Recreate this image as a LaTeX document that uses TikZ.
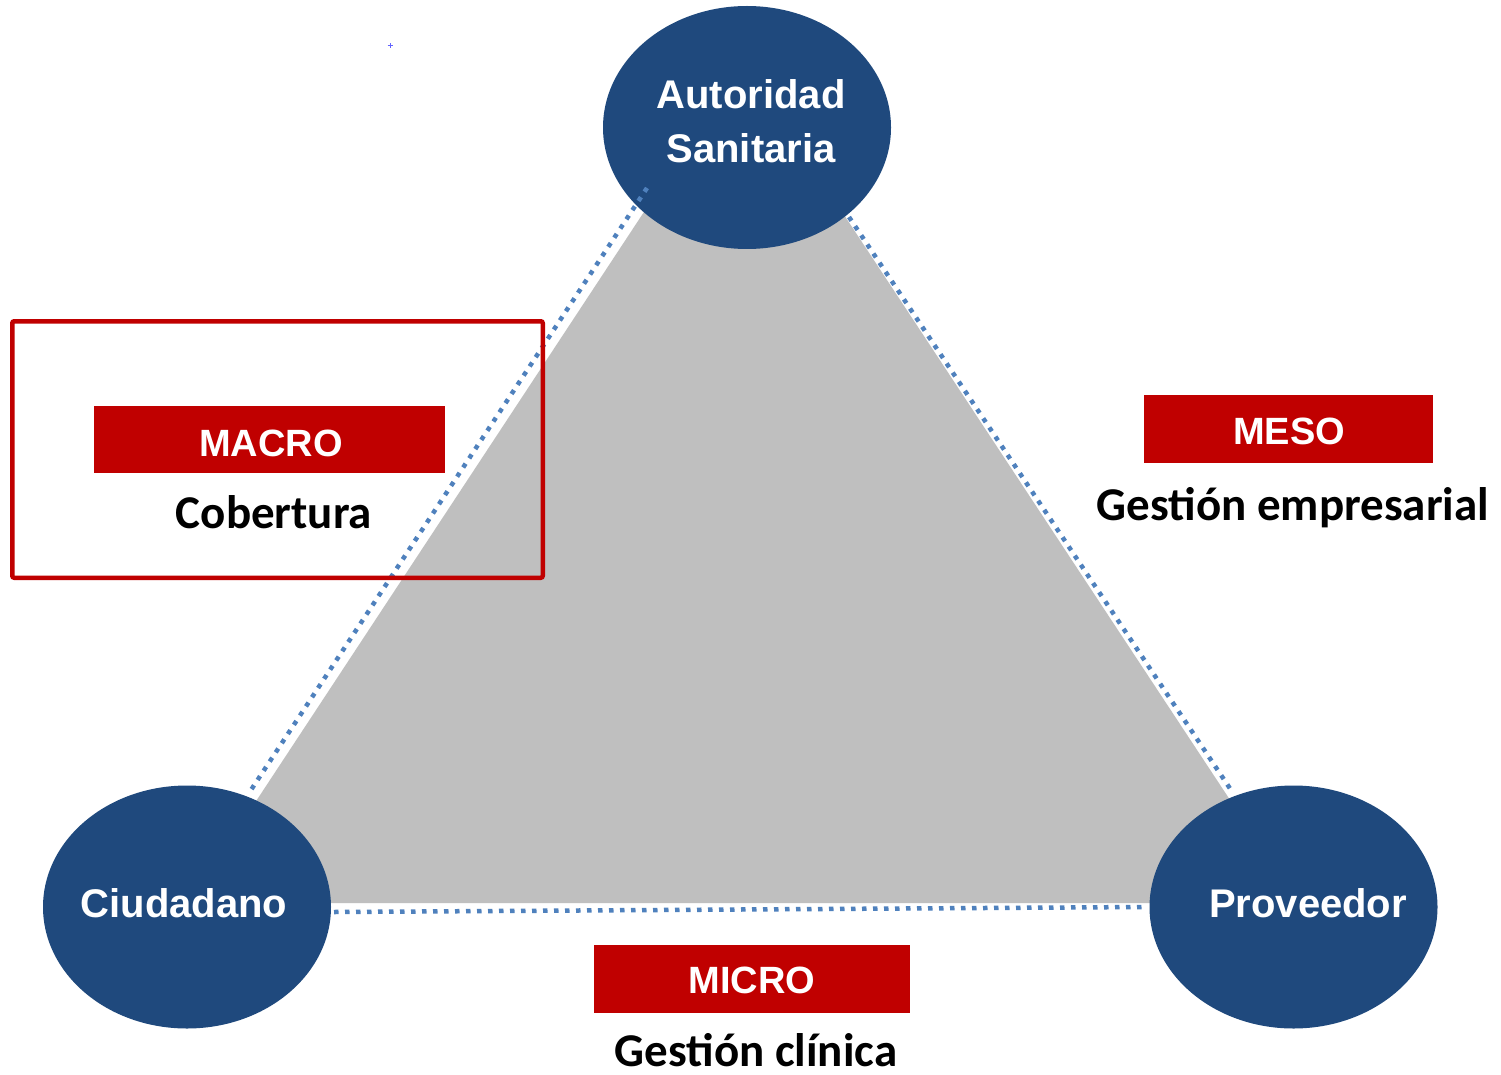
\documentclass[tikz,border=0pt]{standalone}
\usepackage{fontspec}
\usetikzlibrary{shapes.geometric}
\newfontfamily\arialf{Liberation Sans}
\newfontfamily\calibf{Carlito}
\definecolor{ellblue}{RGB}{31,73,125}
\definecolor{dotblue}{RGB}{79,129,189}
\definecolor{labred}{RGB}{192,0,0}
\definecolor{trigray}{RGB}{191,191,191}
\definecolor{crossblue}{RGB}{100,100,255}
\begin{document}
\begin{tikzpicture}[x=1pt,y=-1pt,
  ell/.style={ellipse, fill=ellblue, minimum width=288pt, minimum height=243pt, inner sep=0pt},
  elltext/.style={text=white, font=\arialf\bfseries\fontsize{40}{48}\selectfont, anchor=base, inner sep=0pt},
  tagbox/.style={fill=labred, inner sep=0pt, outer sep=0pt, anchor=north west},
  tagtext/.style={text=white, font=\arialf\bfseries\fontsize{38}{44}\selectfont, anchor=base, inner sep=0pt},
  subtext/.style={text=black, font=\calibf\bfseries\fontsize{47}{56}\selectfont, anchor=base, inner sep=0pt},
  link/.style={draw=dotblue, line width=4.5pt, dash pattern=on 4.5pt off 6.5pt, line cap=butt}
]
\useasboundingbox[fill=white] (0,0) rectangle (1501,1075);

% tiny blue cross
\draw[crossblue, line width=1pt] (387.5,46) -- (392.5,46) (390,43.5) -- (390,48.5);

% gray triangle
\fill[trigray] (665,180) -- (821,180) -- (1298,903) -- (189,903) -- cycle;

% ellipses
\node[ell] (auto) at (747,127.5) {};
\node[ell] (ciud) at (187,907) {};
\node[ell] (prov) at (1293.5,907) {};

% dotted connectors
\coordinate (l1) at (647,188);
\coordinate (l2) at (249,793);
\coordinate (r1) at (849,217);
\coordinate (r2) at (1233,793);
\coordinate (b1) at (334,912);
\coordinate (b2) at (1146,907);
\draw[link] (l1) -- (l2);
\draw[link] (r1) -- (r2);
\draw[link] (b1) -- (b2);

% ellipse texts
\node[elltext] (autoA) at (751,109) {Autoridad};
\node[elltext] (autoB) at (751,163) {Sanitaria};
\node[elltext] (ciudT) at (184,917) {Ciudadano};
\node[elltext] (provT) at (1308,917) {Proveedor};

% tags
\node[tagbox, minimum width=351pt, minimum height=67pt] (macrobox) at (94,406) {};
\node[tagtext] (macroT) at (271,456) {MACRO};
\node[subtext] (cobT) at (274,528) {Cobertura};

\node[tagbox, minimum width=289pt, minimum height=68pt] (mesobox) at (1144,395) {};
\node[tagtext] (mesoT) at (1289,444) {MESO};
\node[subtext] (gempT) at (1293,520) {Gestión empresarial};

\node[tagbox, minimum width=316pt, minimum height=68pt] (microbox) at (594,945) {};
\node[tagtext] (microT) at (752,993) {MICRO};
\node[subtext] (gclT) at (756,1066) {Gestión clínica};

% red frame
\node[draw=labred, line width=4.5pt, rounded corners=2pt, minimum width=530.5pt, minimum height=256.5pt, inner sep=0pt] (macroframe) at (277.5,449.5) {};
\end{tikzpicture}
\end{document}
